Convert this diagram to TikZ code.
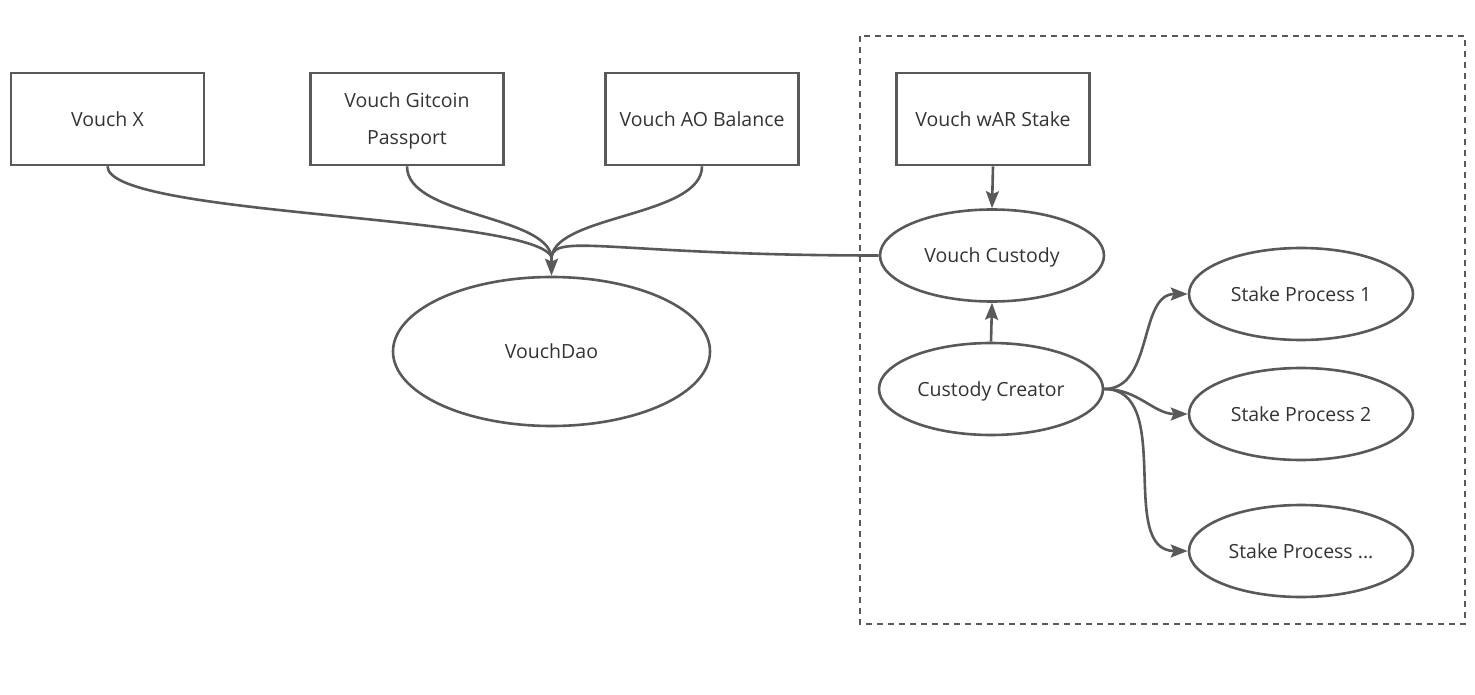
\documentclass[tikz,border=0pt]{standalone}
\usepackage{fontspec}
\setmainfont{Open Sans}
\usetikzlibrary{arrows.meta,shapes.geometric}

\definecolor{linegray}{HTML}{595959}
\definecolor{textgray}{HTML}{333333}

\begin{document}
\begin{tikzpicture}[x=1pt,y=1pt,font=\fontsize{19.5}{22}\selectfont,text=textgray,
  box/.style={draw=linegray,line width=2.6pt,minimum width=193pt,minimum height=92pt,inner sep=0pt,text depth=0pt,align=center},
  oval/.style={ellipse,draw=linegray,line width=2.6pt,minimum width=224pt,minimum height=92pt,inner sep=0pt,text depth=0pt},
  link/.style={draw=linegray,line width=2.6pt},
  arr/.style={link,-{Stealth[length=17pt,width=13pt,inset=3pt]}}]
\useasboundingbox (0,0) rectangle (1475,-695);
% dashed group on the right
\draw[link,dash pattern=on 6pt off 5pt] (860,-36) rectangle (1465,-624);
% sources
\node[box] (vx) at (107.5,-119) {Vouch X};
\node[box,font=\fontsize{19.5}{37}\selectfont] (git) at (407,-119) {Vouch Gitcoin\\Passport};
\node[box] (ao) at (702,-119) {Vouch AO Balance};
\node[box] (war) at (993,-119) {Vouch wAR Stake};
% processes
\node[oval,minimum width=317pt,minimum height=149pt] (dao) at (551.5,-351.5) {VouchDao};
\node[oval] (cust) at (992,-255.5) {Vouch Custody};
\node[oval] (crt) at (991,-389) {Custody Creator};
\node[oval] (sp1) at (1301,-294) {Stake Process 1};
\node[oval] (sp2) at (1301,-414) {Stake Process 2};
\node[oval] (spn) at (1301,-551) {Stake Process ...};
\coordinate (join) at ([yshift=19pt]dao.north);
% links into VouchDao
\draw[link] (vx.south) .. controls +(0,-50) and +(-21,42) .. (join);
\draw[link] (git.south) .. controls +(0,-50) and +(-6,42) .. (join);
\draw[link] (ao.south) .. controls +(0,-50) and +(6,42) .. (join);
\draw[link] (cust.west) .. controls +(-260,0) and +(4,24) .. (join);
\draw[arr] (join) -- (dao.north);
% custody side
\draw[arr] (war.south) -- (cust.north);
\draw[arr] (crt.north) -- (cust.south);
\draw[arr] (crt.east) to[out=0,in=180] (sp1.west);
\draw[arr] (crt.east) to[out=0,in=180] (sp2.west);
\draw[arr] (crt.east) to[out=0,in=180] (spn.west);
\end{tikzpicture}
\end{document}
